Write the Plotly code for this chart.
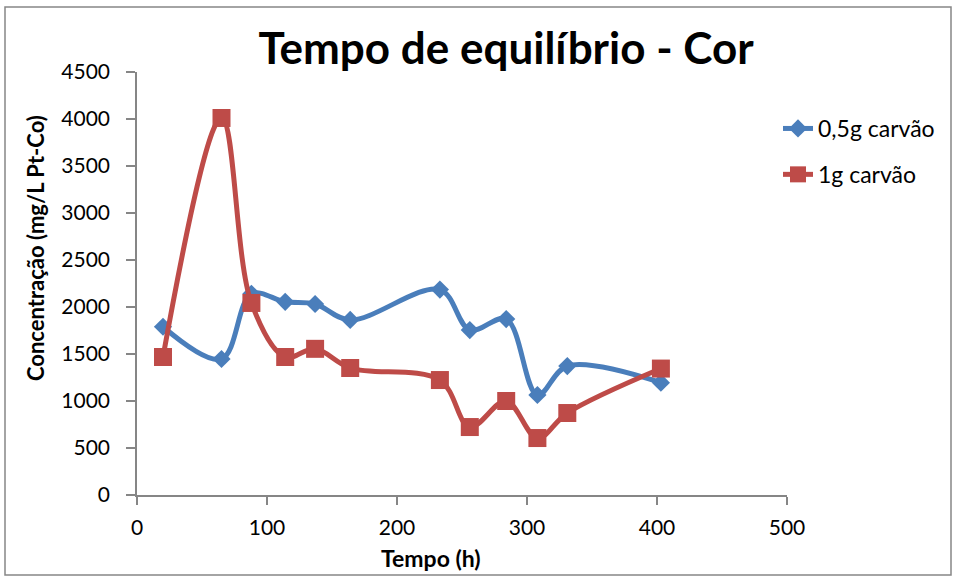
import plotly.graph_objects as go

# Tempo de contato (h) e concentração de cor (mg/L Pt-Co)
tempo = [20, 65, 88, 114, 137, 164, 233, 256, 284, 308, 331, 403]
cor_05g = [1790, 1447, 2140, 2055, 2032, 1862, 2185, 1755, 1872, 1064, 1372, 1195]
cor_1g = [1468, 4011, 2043, 1468, 1555, 1351, 1223, 723, 1000, 606, 872, 1345]

series_names = ["0,5g carvão", "1g carvão"]
x_ticks = [0, 100, 200, 300, 400, 500]
y_ticks = [0, 500, 1000, 1500, 2000, 2500, 3000, 3500, 4000, 4500]

FONT = "Lato"
BLUE = "#4A7EBB"
RED = "#BE4B48"
AXIS = "#868686"

# área de plotagem em pixels
L, R, T, B = 137, 787, 72, 495
W, H = R - L, B - T

fig = go.Figure()
fig.add_trace(go.Scatter(
    x=tempo, y=cor_05g, name=series_names[0], mode="lines+markers",
    legendgroup="a",
    line=dict(color=BLUE, width=5, shape="spline", smoothing=1.0),
    marker=dict(symbol="diamond", size=14, color=BLUE),
))
fig.add_trace(go.Scatter(
    x=tempo, y=cor_1g, name=series_names[1], mode="lines+markers",
    legendgroup="b",
    line=dict(color=RED, width=5, shape="spline", smoothing=1.0),
    marker=dict(symbol="square", size=18, color=RED),
))

fig.update_layout(
    width=955, height=579,
    margin=dict(l=L, r=955 - R, t=T, b=579 - B),
    paper_bgcolor="white", plot_bgcolor="white",
    font=dict(family=FONT, color="black", size=21),
    title=dict(
        text="<b>Tempo de equilíbrio - Cor</b>",
        font=dict(family=FONT, size=44, color="black"),
        x=506 / 955, xanchor="center", y=1 - 49 / 579, yanchor="middle",
    ),
    showlegend=True,
    legend=dict(
        x=(778 - L) / W, y=(B - 107) / H, xanchor="left", yanchor="top",
        font=dict(family=FONT, size=23, color="black"),
        bgcolor="rgba(0,0,0,0)", tracegroupgap=13,
    ),
    xaxis=dict(
        range=[0, 500], tickvals=x_ticks, showgrid=False, zeroline=False,
        showline=True, linecolor=AXIS, linewidth=1.5, automargin=False,
        ticks="outside", tickcolor=AXIS, ticklen=8, tickwidth=1.5,
        ticklabelstandoff=5,
        tickfont=dict(family=FONT, size=21),
    ),
    yaxis=dict(
        range=[0, 4500], tickvals=y_ticks, showgrid=False, zeroline=False,
        showline=True, linecolor=AXIS, linewidth=1.5, automargin=False,
        ticks="outside", tickcolor=AXIS, ticklen=9, tickwidth=1.5,
        ticklabelstandoff=12,
        tickfont=dict(family=FONT, size=21),
    ),
)

# Títulos dos eixos
fig.add_annotation(
    text="<b>Tempo (h)</b>", xref="paper", yref="paper",
    x=(431 - L) / W, y=(B - 558) / H, xanchor="center", yanchor="middle",
    showarrow=False, font=dict(family=FONT, size=23, color="black"),
)
fig.add_annotation(
    text="<b>Concentração (mg/L Pt-Co)</b>", xref="paper", yref="paper",
    x=(35 - L) / W, y=(B - 248) / H, xanchor="center", yanchor="middle",
    textangle=-90, showarrow=False, font=dict(family=FONT, size=22, color="black"),
)

# Moldura externa do gráfico
fig.add_shape(
    type="rect", xref="paper", yref="paper",
    x0=(5 - L) / W, x1=(951 - L) / W,
    y0=(B - 575) / H, y1=(B - 7) / H,
    line=dict(color=AXIS, width=1.5), fillcolor="rgba(0,0,0,0)", layer="below",
)

fig.write_html("out.html")
